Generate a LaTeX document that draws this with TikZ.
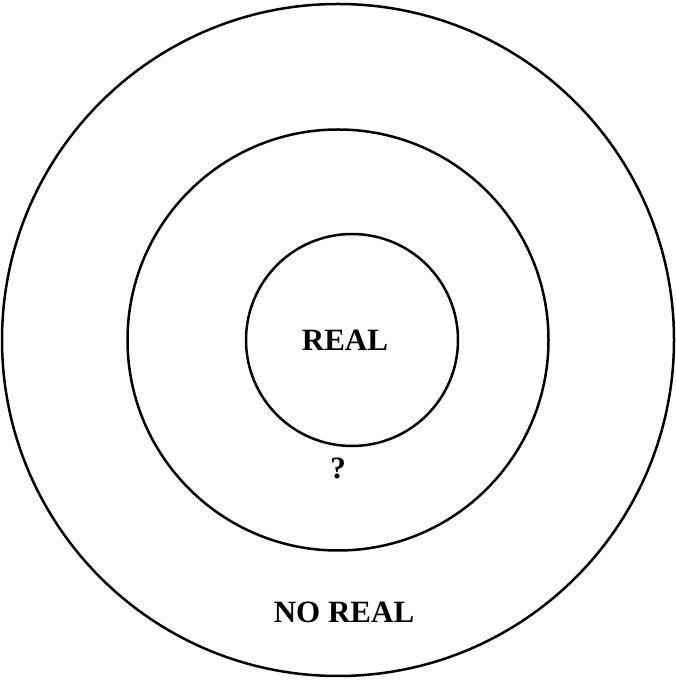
\documentclass[tikz,border=0pt]{standalone}
\usepackage{fontspec}
\setmainfont{Liberation Serif}
\usetikzlibrary{positioning}

\begin{document}
\begin{tikzpicture}[
    x=1pt,y=1pt,
    ring/.style={circle,draw,line width=2.5pt,inner sep=0pt},
    lbl/.style={font=\fontsize{31}{31}\selectfont\bfseries,inner sep=0pt},
  ]
  \useasboundingbox (0,0) rectangle (676,680);

  % ---------- RINGS ----------
  \node[ring,minimum size=672] (outer) at (338,340) {};
  \node[ring,minimum size=421] (middle) at (338,340) {};
  \node[ring,minimum size=212] (inner) at (352,340) {};

  % ---------- LABELS ----------
  \node[lbl] (real)   at (345,340) {REAL};
  \node[lbl] (unsure) at (338,212) {?};
  \node[lbl] (noreal) at (344,68)  {NO REAL};

\end{tikzpicture}
\end{document}
